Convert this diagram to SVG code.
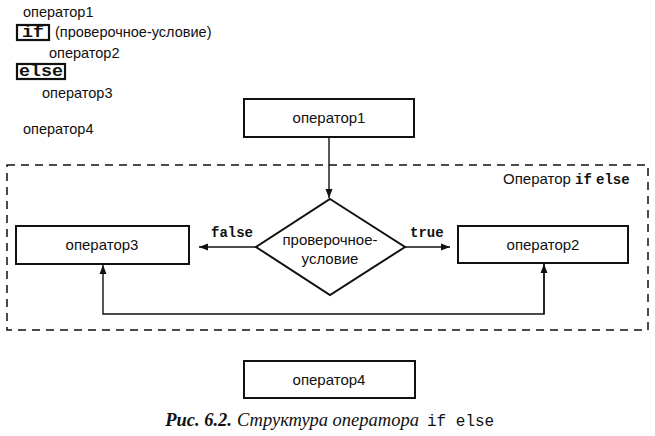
<svg xmlns="http://www.w3.org/2000/svg" width="655" height="436" viewBox="0 0 655 436">
<style>
.t{font-family:"Liberation Sans",Arial,sans-serif;font-size:15px;fill:#111}
.s{font-family:"Liberation Sans",Arial,sans-serif;font-size:14.5px;fill:#111}
.m{font-family:"Liberation Mono","Courier New",monospace;font-weight:bold;font-size:14px;fill:#111}
.mb{font-family:"Liberation Mono","Courier New",monospace;font-weight:bold;font-size:16px;fill:#111}
.box{fill:#fff;stroke:#111;stroke-width:2}
.kw{fill:none;stroke:#111;stroke-width:2.2}
.ln{fill:none;stroke:#111;stroke-width:1.4}
.cap{font-family:"Liberation Serif","Times New Roman",serif;font-style:italic;font-size:18.5px;fill:#111}
</style>
<defs>
<marker id="ah" markerWidth="10" markerHeight="8" refX="9" refY="4" orient="auto" markerUnits="userSpaceOnUse">
<path d="M0,0.5 L9,4 L0,7.5 Z" fill="#111"/>
</marker>
</defs>
<rect width="655" height="436" fill="#fff"/>
<g id="code">
<text class="s" x="23" y="17">оператор1</text>
<rect class="kw" x="17" y="25" width="32" height="15"/>
<text class="mb" x="22" y="37" textLength="22" lengthAdjust="spacingAndGlyphs">if</text>
<text class="s" x="55" y="37">(проверочное-условие)</text>
<text class="s" x="49" y="58">оператор2</text>
<rect class="kw" x="17" y="64" width="48" height="15"/>
<text class="mb" x="19" y="76" textLength="44" lengthAdjust="spacingAndGlyphs">else</text>
<text class="s" x="42" y="98">оператор3</text>
<text class="s" x="23" y="134">оператор4</text>
</g>
<g id="frame">
<rect x="7" y="165" width="641" height="165" fill="none" stroke="#111" stroke-width="1.5" stroke-dasharray="8,6"/>
<text class="t" x="503" y="184">Оператор <tspan class="m">if</tspan> <tspan class="m">else</tspan></text>
</g>
<g id="connectors">
<line class="ln" x1="329" y1="137" x2="329" y2="198" marker-end="url(#ah)"/>
<line class="ln" x1="256" y1="247" x2="199" y2="247" marker-end="url(#ah)"/>
<line class="ln" x1="405" y1="247" x2="450" y2="247" marker-end="url(#ah)"/>
<polyline class="ln" points="544,264 544,314 103,314 103,265" marker-end="url(#ah)"/>
<line class="ln" x1="544" y1="314" x2="544" y2="264" marker-end="url(#ah)"/>
<text class="m" x="211" y="237">false</text>
<text class="m" x="410" y="237">true</text>
</g>
<g id="op1">
<rect class="box" x="244" y="99" width="170" height="38"/>
<text class="t" x="329" y="123" text-anchor="middle">оператор1</text>
</g>
<g id="cond">
<polygon points="330,199 405,247 330,295 256,247" fill="#fff" stroke="#111" stroke-width="2"/>
<text class="t" x="330" y="245" text-anchor="middle" font-size="15.5">проверочное-</text>
<text class="t" x="330" y="264" text-anchor="middle" font-size="15.5">условие</text>
</g>
<g id="op3">
<rect class="box" x="16" y="226" width="173" height="38"/>
<text class="t" x="102" y="250" text-anchor="middle">оператор3</text>
</g>
<g id="op2">
<rect class="box" x="458" y="226" width="170" height="37"/>
<text class="t" x="543" y="250" text-anchor="middle">оператор2</text>
</g>
<g id="op4">
<rect class="box" x="244" y="361" width="171" height="37"/>
<text class="t" x="329" y="385" text-anchor="middle">оператор4</text>
</g>
<g id="caption">
<text class="cap" x="232" y="426" text-anchor="end" font-weight="bold">Рис. 6.2.</text>
<text class="cap" x="237" y="426">Структура оператора</text>
<text x="427" y="426" font-family="Liberation Mono, Courier New, monospace" font-size="16" fill="#111">if else</text>
</g>
</svg>
